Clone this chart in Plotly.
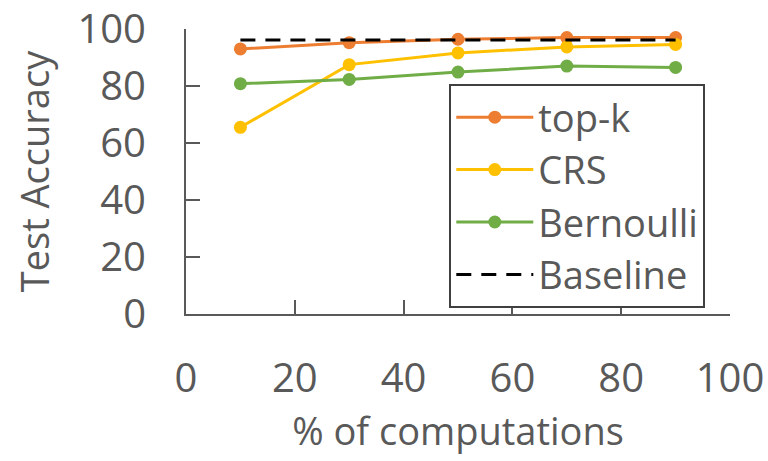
import plotly.graph_objects as go

# % of computations kept
computations = [10, 30, 50, 70, 90]

# test accuracy per sampling scheme
topk_acc = [93.0, 95.2, 96.4, 97.0, 97.0]
crs_acc = [65.5, 87.5, 91.6, 93.7, 94.6]
bernoulli_acc = [80.8, 82.3, 84.9, 87.0, 86.5]
baseline_acc = [96.1, 96.1, 96.1, 96.1, 96.1]

tick_vals = [0, 20, 40, 60, 80, 100]

FONT = "Open Sans"
TEXT = "#595959"
AXIS = "#595959"

fig = go.Figure()

series = [
    ("top-k", topk_acc, "#ED7D31"),
    ("CRS", crs_acc, "#FFC000"),
    ("Bernoulli", bernoulli_acc, "#70AD47"),
]
for name, ys, color in series:
    fig.add_trace(go.Scatter(
        x=computations, y=ys, name=name, mode="lines+markers",
        line=dict(color=color, width=3),
        marker=dict(color=color, size=13),
        legendgroup=name,
    ))

fig.add_trace(go.Scatter(
    x=computations, y=baseline_acc, name="Baseline", mode="lines",
    line=dict(color="black", width=3, dash="15px,10px"),
    legendgroup="Baseline",
))

axis_common = dict(
    range=[0, 100], tickvals=tick_vals, showgrid=False, zeroline=False,
    showline=True, linecolor=AXIS, linewidth=2, automargin=False,
    ticks="inside", ticklen=14, tickwidth=2, tickcolor=AXIS,
    tickfont=dict(family=FONT, size=40, color=TEXT),
)

fig.update_layout(
    width=768, height=461,
    margin=dict(l=186, r=38, t=29, b=147),
    paper_bgcolor="white", plot_bgcolor="white",
    xaxis=dict(**axis_common, ticklabelstandoff=28,
               title=dict(text="% of computations", standoff=0,
                          font=dict(family=FONT, size=38, color=TEXT))),
    yaxis=dict(**axis_common, ticklabelstandoff=30,
               title=dict(text="Test Accuracy", standoff=16,
                          font=dict(family=FONT, size=38, color=TEXT))),
    legend=dict(
        x=0.484, y=0.807, xanchor="left", yanchor="top",
        bordercolor="#404040", borderwidth=2, bgcolor="white",
        font=dict(family=FONT, size=38, color=TEXT),
        tracegroupgap=0, itemwidth=77, entrywidth=280,
    ),
)

fig.write_html("out.html")
